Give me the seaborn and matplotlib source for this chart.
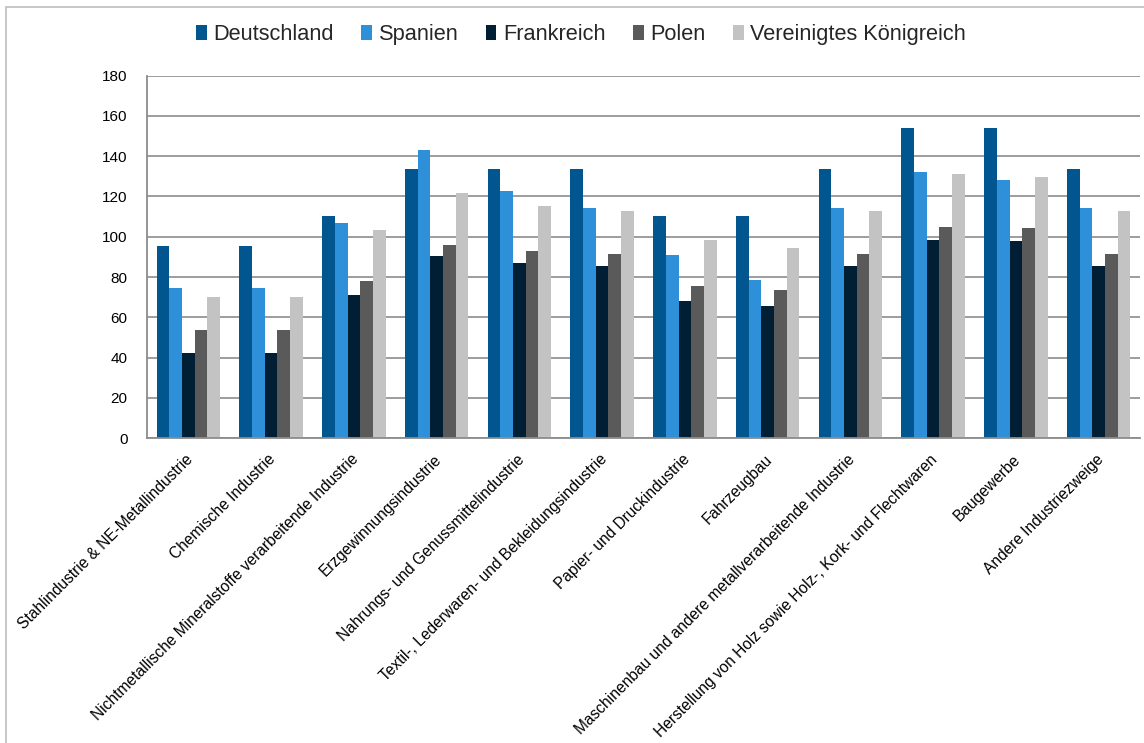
import matplotlib
matplotlib.use('Agg')
import matplotlib.pyplot as plt
import matplotlib.transforms as mtransforms
import pandas as pd
import seaborn as sns
from matplotlib.patches import Rectangle

categories = [
    'Stahlindustrie & NE-Metallindustrie',
    'Chemische Industrie',
    'Nichtmetallische Mineralstoffe verarbeitende Industrie',
    'Erzgewinnungsindustrie',
    'Nahrungs- und Genussmittelindustrie',
    'Textil-, Lederwaren- und Bekleidungsindustrie',
    'Papier- und Druckindustrie',
    'Fahrzeugbau',
    'Maschinenbau und andere metallverarbeitende Industrie',
    'Herstellung von Holz sowie Holz-, Kork- und Flechtwaren',
    'Baugewerbe',
    'Andere Industriezweige',
]
countries = ['Deutschland', 'Spanien', 'Frankreich', 'Polen', 'Vereinigtes Königreich']

deutschland = [95.3, 95.3, 110.2, 133.4, 133.5, 133.5, 110.3, 110.3, 133.5, 153.8, 153.8, 133.5]
spanien = [74.8, 74.8, 107.0, 143.2, 122.6, 114.4, 90.7, 78.3, 114.4, 132.3, 128.3, 114.4]
frankreich = [42.4, 42.4, 70.9, 90.4, 86.9, 85.4, 67.9, 65.4, 85.4, 98.5, 97.7, 85.4]
polen = [53.5, 53.5, 77.8, 95.7, 92.7, 91.6, 75.5, 73.5, 91.6, 104.8, 104.1, 91.6]
vk = [69.9, 69.9, 103.2, 121.7, 115.4, 112.9, 98.3, 94.5, 112.9, 131.3, 129.8, 112.9]

colors = ['#02568F', '#2E90D8', '#001F34', '#5A5A5A', '#C3C3C3']

series = [deutschland, spanien, frankreich, polen, vk]
rows = []
for country, vals in zip(countries, series):
    for cat, v in zip(categories, vals):
        rows.append({'Branche': cat, 'Land': country, 'Wert': v})
df = pd.DataFrame(rows)

sns.set_theme(style='white')
plt.rcParams['font.family'] = ['Liberation Sans', 'DejaVu Sans']

fig = plt.figure(figsize=(11.44, 7.43), dpi=100)
ax = fig.add_axes([147 / 1144, 1 - 438.3 / 743, 993 / 1144, 362.8 / 743])

sns.barplot(data=df, x='Branche', y='Wert', hue='Land', order=categories,
            hue_order=countries, palette=colors, saturation=1, width=0.77,
            gap=0, linewidth=0, ax=ax)

ax.set_ylim(0, 180)
ax.set_yticks(range(0, 181, 20))
ax.set_xlim(-0.5, len(categories) - 0.5)
ax.set_xlabel('')
ax.set_ylabel('')
ax.yaxis.grid(True, color='#8C8C8C', linewidth=1.2)
ax.set_axisbelow(True)
for side in ['top', 'right']:
    ax.spines[side].set_visible(False)
for side in ['left', 'bottom']:
    ax.spines[side].set_color('#8C8C8C')
    ax.spines[side].set_linewidth(1.3)
ax.tick_params(axis='y', length=0, pad=14, labelsize=11, labelcolor='black')
ax.tick_params(axis='x', length=0, pad=6, labelsize=11.2, labelcolor='black')
shift = mtransforms.ScaledTranslation(-3 / 100, -5 / 100, fig.dpi_scale_trans)
for lbl in ax.get_xticklabels():
    lbl.set_rotation(45)
    lbl.set_ha('right')
    lbl.set_rotation_mode('anchor')
    lbl.set_transform(lbl.get_transform() + shift)

sns.move_legend(ax, 'center', bbox_to_anchor=(0.437, 1.112), ncol=5,
                frameon=False, title=None, fontsize=15.7, handlelength=0.5,
                handleheight=0.65, handletextpad=0.3, columnspacing=1.25)

# outer frame of the chart area
fig.patches.append(Rectangle((6 / 1144, -0.05), 1.2, 1.05 - 7 / 743,
                             transform=fig.transFigure, fill=False,
                             edgecolor='#BEBEBE', linewidth=1.2))

fig.savefig('out.png', dpi=100)
